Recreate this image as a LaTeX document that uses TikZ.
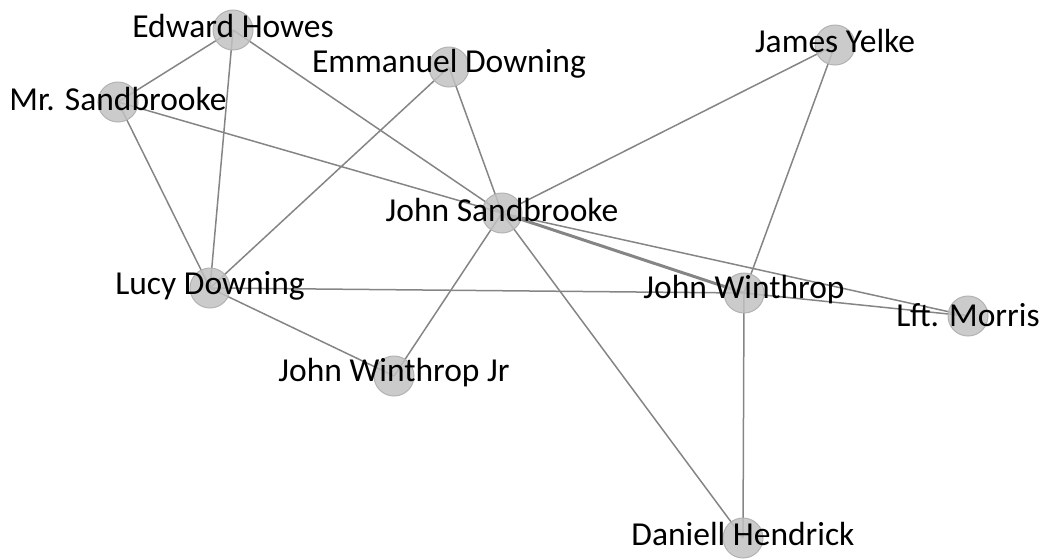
\documentclass[tikz,border=0pt]{standalone}
\usepackage{fontspec}
\setmainfont{Carlito}
\usetikzlibrary{backgrounds}

\tikzset{
  person/.style={circle, minimum size=40pt, inner sep=0pt, fill=black!24, draw=black!30, line width=1pt, fill opacity=0.85},
  personlabel/.style={font=\fontsize{33.5}{34}\selectfont, text=black, text opacity=1, inner sep=0pt},
  tie/.style={draw=black!48, line width=1.5pt},
  strongtie/.style={draw=black!48, line width=3pt}
}

\begin{document}
\begin{tikzpicture}[x=1pt, y=-1pt]
    \useasboundingbox (0,0) rectangle (1041,558);

    % people
    \node[person, label={[personlabel, yshift=4pt]center:Edward Howes}] (howes) at (233,30) {};
    \node[person, label={[personlabel, yshift=3pt]center:Emmanuel Downing}] (edowning) at (449,67) {};
    \node[person, label={[personlabel, yshift=4pt]center:James Yelke}] (yelke) at (835,45) {};
    \node[person, label={[personlabel, yshift=3pt]center:Mr. Sandbrooke}] (msand) at (118,102) {};
    \node[person, label={[personlabel, yshift=3pt]center:John Sandbrooke}] (jsand) at (502,213) {};
    \node[person, label={[personlabel, yshift=2pt]center:Lucy Downing}] (ldowning) at (210,288) {};
    \node[person, label={[personlabel, yshift=3pt]center:John Winthrop}] (winthrop) at (744,293) {};
    \node[person, label={[personlabel, yshift=1pt]center:Lft. Morris}] (morris) at (968,316) {};
    \node[person, label={[personlabel, yshift=3pt]center:John Winthrop Jr}] (winjr) at (394,376) {};
    \node[person, label={[personlabel, yshift=4pt]center:Daniell Hendrick}] (hendrick) at (743,538) {};

    % ties between them
    \begin{pgfonlayer}{background}
        \draw[tie] (howes.center) -- (msand.center);
        \draw[tie] (howes.center) -- (ldowning.center);
        \draw[tie] (howes.center) -- (jsand.center);
        \draw[tie] (msand.center) -- (ldowning.center);
        \draw[tie] (msand.center) -- (jsand.center);
        \draw[tie] (edowning.center) -- (ldowning.center);
        \draw[tie] (edowning.center) -- (jsand.center);
        \draw[tie] (yelke.center) -- (jsand.center);
        \draw[tie] (yelke.center) -- (winthrop.center);
        \draw[strongtie] (jsand.center) -- (winthrop.center);
        \draw[tie] (jsand.center) -- (morris.center);
        \draw[tie] (jsand.center) -- (winjr.center);
        \draw[tie] (jsand.center) -- (hendrick.center);
        \draw[tie] (ldowning.center) -- (winthrop.center);
        \draw[tie] (ldowning.center) -- (winjr.center);
        \draw[tie] (winthrop.center) -- (morris.center);
        \draw[tie] (winthrop.center) -- (hendrick.center);
    \end{pgfonlayer}
\end{tikzpicture}
\end{document}
